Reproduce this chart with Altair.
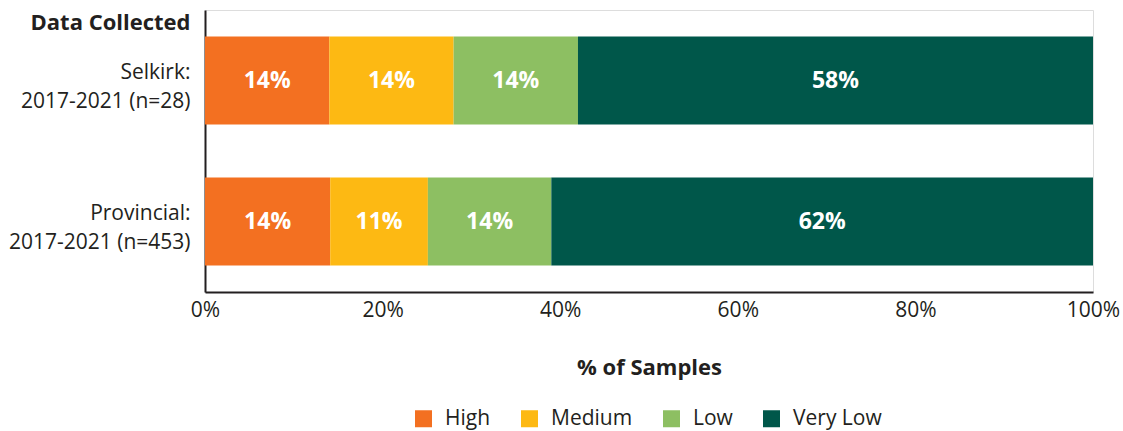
import altair as alt
import pandas as pd

groups = ["Selkirk:\n2017-2021 (n=28)", "Provincial:\n2017-2021 (n=453)"]
levels = ["High", "Medium", "Low", "Very Low"]
colors = ["#F37021", "#FDB913", "#8DBF62", "#00574A"]
selkirk_vals = [14.0, 14.0, 14.0, 58.0]
provincial_vals = [14.1, 11.0, 13.9, 61.0]
selkirk_labels = ["14%", "14%", "14%", "58%"]
provincial_labels = ["14%", "11%", "14%", "62%"]

rows = []
for g, vals, labs in [(groups[0], selkirk_vals, selkirk_labels),
                      (groups[1], provincial_vals, provincial_labels)]:
    for i, (lev, v, lab) in enumerate(zip(levels, vals, labs)):
        rows.append({"group": g, "level": lev, "value": v, "label": lab, "ord": i})
df = pd.DataFrame(rows)

FONT = "Open Sans"
TXT = "#231F20"

base = alt.Chart(df).transform_stack(
    stack="value", groupby=["group"], as_=["v0", "v1"],
    sort=[alt.SortField("ord", order="ascending")]
).transform_calculate(mid="(datum.v0 + datum.v1) / 2")

yenc = alt.Y("group:N", sort=groups,
             scale=alt.Scale(paddingInner=0.376, paddingOuter=0.188),
             axis=alt.Axis(title="Data Collected", titleAngle=0, titleAlign="right",
                           titleBaseline="middle", titleX=-15, titleY=12,
                           titleFont=FONT, titleFontSize=22, titleFontWeight="bold",
                           titleColor=TXT,
                           labelExpr="split(datum.label, '\\n')",
                           labelFont=FONT, labelFontSize=21, labelColor=TXT,
                           labelLineHeight=29, labelPadding=15, labelOffset=-8,
                           labelLimit=400,
                           ticks=False, domainColor=TXT, domainWidth=2))

bars = base.mark_bar().encode(
    x=alt.X("v0:Q", scale=alt.Scale(domain=[0, 100], nice=False),
            axis=alt.Axis(title="% of Samples", values=[0, 20, 40, 60, 80, 100],
                          labelExpr="datum.value + '%'", grid=False, ticks=False,
                          labelFlush=False, labelBound=False,
                          labelFont=FONT, labelFontSize=21, labelColor=TXT,
                          labelPadding=7, titleFont=FONT, titleFontSize=22,
                          titleFontWeight="bold", titleColor=TXT, titlePadding=37,
                          domainColor=TXT, domainWidth=2)),
    x2="v1:Q",
    y=yenc,
    color=alt.Color("level:N", scale=alt.Scale(domain=levels, range=colors),
                    legend=alt.Legend(title=None, orient="none", direction="horizontal",
                                      legendX=208, legendY=398,
                                      symbolType="square", symbolSize=289,
                                      symbolStrokeWidth=0, labelFont=FONT,
                                      labelFontSize=21, labelColor=TXT,
                                      columnPadding=28, labelOffset=11)),
)

texts = base.mark_text(color="white", font=FONT, fontSize=23, fontWeight="bold",
                       baseline="middle", align="center").encode(
    x="mid:Q",
    y=alt.Y("group:N", sort=groups),
    text="label:N",
)

chart = (bars + texts).properties(
    width=888, height=282,
    autosize=alt.AutoSizeParams(type="none"),
    padding={"left": 205, "top": 10, "right": 30, "bottom": 139},
).configure_view(stroke=None).configure(background="white")

chart.save("out.html", embed_options={"renderer": "svg", "actions": False})
